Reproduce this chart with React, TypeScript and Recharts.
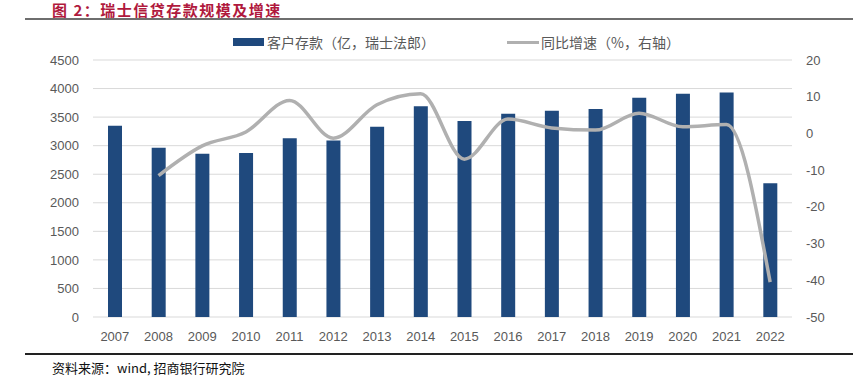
import { ComposedChart, Bar, Line, XAxis, YAxis, CartesianGrid } from 'recharts';

const years = ['2007', '2008', '2009', '2010', '2011', '2012', '2013', '2014', '2015', '2016', '2017', '2018', '2019', '2020', '2021', '2022'];
const deposits = [3350, 2965, 2860, 2870, 3130, 3090, 3330, 3690, 3430, 3560, 3610, 3640, 3840, 3910, 3930, 2340];
const growth = [null, -11.5, -3.4, 0.4, 9.0, -1.3, 7.8, 10.8, -7.0, 3.9, 1.5, 0.9, 5.5, 1.8, 2.4, -40.5];

const leftTicks = [0, 500, 1000, 1500, 2000, 2500, 3000, 3500, 4000, 4500];
const rightTicks = [-50, -40, -30, -20, -10, 0, 10, 20];

const BAR_COLOR = '#1F497D';
const LINE_COLOR = '#B0B0B0';
const TICK = { fill: '#595959', fontSize: 13, fontFamily: 'Liberation Sans, Arial, sans-serif' };

const data = years.map((y, i) => ({ year: y, deposit: deposits[i], growth: growth[i] }));

export default function App() {
  return (
    <div style={{ position: 'absolute', left: 0, top: 0, width: 853, height: 377, background: '#fff', overflow: 'hidden', fontFamily: '"Noto Sans CJK SC", sans-serif' }}>
      <div style={{ position: 'absolute', left: 52, top: 2, fontSize: 15, lineHeight: '15px', fontWeight: 700, color: '#B0193D', whiteSpace: 'nowrap', letterSpacing: 1.5 }}>
        图 2：瑞士信贷存款规模及增速
      </div>
      <div style={{ position: 'absolute', left: 25, right: 0, top: 18, height: 2, background: '#6E6E6E' }} />

      <div style={{ position: 'absolute', top: 32, left: 233, display: 'flex', alignItems: 'center', fontSize: 14, color: '#595959', whiteSpace: 'nowrap' }}>
        <span style={{ display: 'inline-block', width: 31, height: 8, background: BAR_COLOR, marginRight: 3 }} />
        <span>客户存款（亿，瑞士法郎）</span>
        <span style={{ display: 'inline-block', width: 32, height: 3, background: LINE_COLOR, marginLeft: 72, marginRight: 2 }} />
        <span>同比增速（%，右轴）</span>
      </div>

      <ComposedChart width={853} height={377} data={data} margin={{ top: 60, right: 0, bottom: 30, left: 0 }} style={{ position: 'absolute', left: 0, top: 0 }}>
        <CartesianGrid vertical={false} stroke="#D9D9D9" yAxisId="left" />
        <XAxis dataKey="year" axisLine={false} tickLine={false} tickSize={0} tickMargin={15} tick={TICK} height={30} />
        <YAxis yAxisId="left" domain={[0, 4500]} ticks={leftTicks} axisLine={false} tickLine={false} tickSize={0} tickMargin={14} width={93} tick={TICK} interval={0} />
        <YAxis yAxisId="right" orientation="right" domain={[-50, 20]} ticks={rightTicks} axisLine={false} tickLine={false} tickSize={0} tickMargin={14} width={61} tick={TICK} interval={0} />
        <Bar yAxisId="left" dataKey="deposit" fill={BAR_COLOR} barSize={14} isAnimationActive={false} />
        <Line yAxisId="right" dataKey="growth" type="monotone" stroke={LINE_COLOR} strokeWidth={3.5} dot={false} connectNulls={false} isAnimationActive={false} />
      </ComposedChart>

      <div style={{ position: 'absolute', left: 25, right: 0, top: 353, height: 2, background: '#222' }} />
      <div style={{ position: 'absolute', left: 52, top: 358, fontSize: 13, color: '#111', whiteSpace: 'nowrap' }}>
        资料来源：wind, 招商银行研究院
      </div>
    </div>
  );
}
